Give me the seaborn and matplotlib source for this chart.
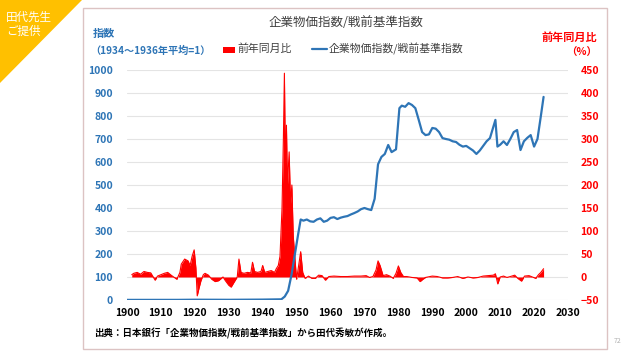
import matplotlib
matplotlib.use("Agg")
import matplotlib.pyplot as plt
import seaborn as sns
import pandas as pd
from matplotlib.patches import Polygon, Rectangle
from matplotlib.lines import Line2D

# --- data ---
# 企業物価指数/戦前基準指数 (1934-36 average = 1)
index_years = [1900, 1915, 1920, 1930, 1940, 1945.5, 1946.5, 1947.5, 1948.5, 1949.5,
               1950.5, 1951.2, 1952, 1953, 1954, 1955, 1956, 1957, 1958, 1959,
               1960, 1961, 1962, 1963, 1964, 1965, 1966, 1967, 1968, 1969,
               1970, 1971, 1972, 1973, 1974, 1975, 1976, 1977, 1978, 1979.3,
               1980.3, 1981, 1982, 1983, 1984, 1985, 1986, 1987, 1988, 1989,
               1990, 1991, 1992, 1993, 1994, 1995, 1996, 1997, 1998, 1999,
               2000, 2001, 2002, 2003, 2004, 2005, 2006, 2007, 2008.6, 2009.2,
               2010, 2011, 2012, 2013, 2014, 2015, 2016, 2017, 2018, 2019,
               2020, 2021, 2022, 2022.8]
index_values = [0.5, 0.6, 1.3, 0.9, 1.8, 3, 15, 40, 110, 200,
                290, 350, 345, 350, 342, 340, 350, 355, 340, 345,
                357, 360, 352, 358, 362, 365, 372, 378, 385, 395,
                400, 395, 391, 440, 590, 622, 635, 674, 643, 655,
                834, 845, 840, 856, 848, 834, 783, 730, 717, 720,
                748, 745, 730, 704, 700, 697, 690, 687, 675, 667,
                670, 660, 650, 635, 650, 670, 690, 704, 783, 667,
                675, 690, 674, 700, 730, 739, 652, 690, 705, 717,
                667, 700, 800, 883]

# 前年同月比 (%)
yoy_years = [1901.4, 1902, 1903, 1904, 1905, 1906, 1907, 1908.3, 1909, 1910,
             1911, 1912, 1913, 1914.7, 1915.6, 1916, 1917, 1918, 1918.6, 1919.2,
             1919.8, 1920.3, 1920.7, 1921.2, 1921.8, 1922.5, 1923, 1924, 1925, 1926,
             1927, 1928.3, 1929, 1930, 1930.7, 1931.5, 1932.5, 1933, 1933.6, 1934.5,
             1935.5, 1936.5, 1937, 1937.6, 1938.5, 1939.5, 1940, 1940.6, 1941.5, 1942.5,
             1943.5, 1944, 1944.6, 1945.1, 1945.7, 1946.1, 1946.4, 1946.7, 1947.0, 1947.3,
             1947.8, 1948.2, 1948.6, 1949.0, 1949.5, 1950.0, 1950.6, 1951.2, 1951.8, 1952.5,
             1953.5, 1954.5, 1955.5, 1956.5, 1957.5, 1958.5, 1959.5, 1961, 1963, 1965,
             1967, 1969, 1970.5, 1971.5, 1972.5, 1973.4, 1974.0, 1974.6, 1975.5, 1976.5,
             1977.5, 1978.5, 1979.3, 1980.0, 1980.7, 1981.5, 1982.5, 1984, 1985.5, 1986.4,
             1987.2, 1988, 1990, 1991.5, 1993, 1994.5, 1996, 1997.5, 1999, 2000.5,
             2002, 2003.5, 2005, 2006.5, 2008.0, 2008.6, 2009.3, 2010, 2011, 2012,
             2013, 2014.3, 2015.2, 2016.3, 2017.2, 2018.5, 2019.5, 2020.5, 2021.3, 2022.0,
             2022.8]
yoy_values = [5, 8, 10, 6, 12, 10, 9, -7, 2, 5,
              8, 10, 4, -5, 10, 28, 39, 35, 25, 45,
              59, 20, -41, -25, -8, 5, 8, 4, -5, -10,
              -8, 0, -8, -18, -22, -12, 0, 39, 10, 8,
              10, 9, 32, 12, 10, 12, 25, 10, 12, 14,
              10, 18, 25, 45, 150, 300, 443, 240, 330, 200,
              272, 160, 200, 90, 40, -5, 25, 55, 10, -3,
              2, -3, -3, 4, 3, -7, 1, 2, 1, 1,
              2, 2, 3, -1, 1, 15, 35, 25, 3, 5,
              2, -3, 8, 24, 10, 1, 1, -1, -2, -10,
              -5, -1, 2, 1, -2, -2, -1, 1, -3, 0,
              -2, -1, 2, 3, 4, 7, -15, 0, 2, -1,
              1, 4, -3, -9, 2, 3, 0, -3, 5, 10,
              18]

x_ticks = list(range(1900, 2031, 10))
left_ticks = list(range(0, 1001, 100))
right_ticks = list(range(-50, 451, 50))

BLUE = "#2E75B6"
RED = "#FF0000"

df_idx = pd.DataFrame({"year": index_years, "index": index_values})
df_yoy = pd.DataFrame({"year": yoy_years, "yoy": yoy_values})

sns.set_theme(style="white")
plt.rcParams["font.family"] = ["Noto Sans CJK JP", "DejaVu Sans"]

W, H = 640, 360
fig = plt.figure(figsize=(6.4, 3.6), dpi=100)


def fx(px):
    return px / W


def fy(py):
    return 1 - py / H


# slide decorations
fig.add_artist(Rectangle((fx(83), fy(349)), fx(607) - fx(83), fy(8) - fy(349),
                         transform=fig.transFigure, fill=False, edgecolor="#dcc3c3", lw=1))
fig.add_artist(Polygon([(0, 1), (fx(82), 1), (0, fy(83))], closed=True,
                       transform=fig.transFigure, facecolor="#FFC000", edgecolor="none"))
fig.text(fx(6), fy(17), "田代先生", color="white", fontsize=8.3, va="center", ha="left")
fig.text(fx(6), fy(31), "ご提供", color="white", fontsize=8.3, va="center", ha="left")
fig.text(fx(614), fy(341), "72", color="#b0b0b0", fontsize=5, va="center", ha="left")

# axes: ax2 (red, right) sits under ax (blue, left)
ax = fig.add_axes([fx(127), fy(300), fx(568) - fx(127), fy(70) - fy(300)])
ax2 = ax.twinx()
ax.set_zorder(ax2.get_zorder() + 1)
ax.patch.set_visible(False)

ax2.fill_between(df_yoy["year"], 0, df_yoy["yoy"], color=RED, lw=0)
sns.lineplot(data=df_yoy, x="year", y="yoy", ax=ax2, color=RED, lw=0.8)
sns.lineplot(data=df_idx, x="year", y="index", ax=ax, color=BLUE, lw=1.6)

ax.set_xlim(1900, 2030)
ax.set_ylim(0, 1000)
ax2.set_ylim(-50, 450)
ax.set_xticks(x_ticks)
ax.set_yticks(left_ticks)
ax2.set_yticks(right_ticks)
ax.set_xlabel("")
ax.set_ylabel("")
ax2.set_ylabel("")

ax2.set_axisbelow(True)
ax2.grid(True, axis="y", color="#e4e4e4", lw=0.8)
ax2.xaxis.grid(True, color="#e4e4e4", lw=0.8)
ax2.set_xticks(x_ticks)
ax.grid(False)

for a in (ax, ax2):
    for s in a.spines.values():
        s.set_visible(False)

ax.tick_params(axis="y", length=0, pad=10, labelsize=7.5, labelcolor=BLUE)
ax.tick_params(axis="x", length=0, pad=6, labelsize=7.5, labelcolor="black")
ax2.tick_params(axis="y", length=0, pad=9, labelsize=7.5, labelcolor=RED)
ax2.tick_params(axis="x", length=0, labelbottom=False)
for lab in ax.get_xticklabels() + ax.get_yticklabels() + ax2.get_yticklabels():
    lab.set_fontweight("bold")

# titles and axis captions
fig.text(fx(346), fy(22), "企業物価指数/戦前基準指数", color="#404040", fontsize=9,
         ha="center", va="center")
fig.text(fx(93), fy(33), "指数", color=BLUE, fontsize=8, fontweight="bold",
         ha="left", va="center")
fig.text(fx(90), fy(51), "（1934〜1936年平均=1）", color=BLUE, fontsize=7.3,
         fontweight="bold", ha="left", va="center")
fig.text(fx(597), fy(37), "前年同月比", color=RED, fontsize=8, fontweight="bold",
         ha="right", va="center")
fig.text(fx(597), fy(53), "（%）", color=RED, fontsize=7.5, fontweight="bold",
         ha="right", va="center")

# legend drawn by hand to sit in the header row
fig.add_artist(Rectangle((fx(223), fy(53)), fx(12), fy(47) - fy(53),
                         transform=fig.transFigure, facecolor=RED, edgecolor="none"))
fig.text(fx(237), fy(49), "前年同月比", color="#404040", fontsize=7.8,
         ha="left", va="center")
fig.add_artist(Line2D([fx(312), fx(327)], [fy(49), fy(49)], transform=fig.transFigure,
                      color=BLUE, lw=1.6))
fig.text(fx(329), fy(49), "企業物価指数/戦前基準指数", color="#404040", fontsize=7.8,
         ha="left", va="center")

# source note
fig.text(fx(94), fy(333), "出典：日本銀行「企業物価指数/戦前基準指数」から田代秀敏が作成。",
         color="black", fontsize=6.8, fontweight="bold", ha="left", va="center")

fig.savefig("out.png", dpi=100)
